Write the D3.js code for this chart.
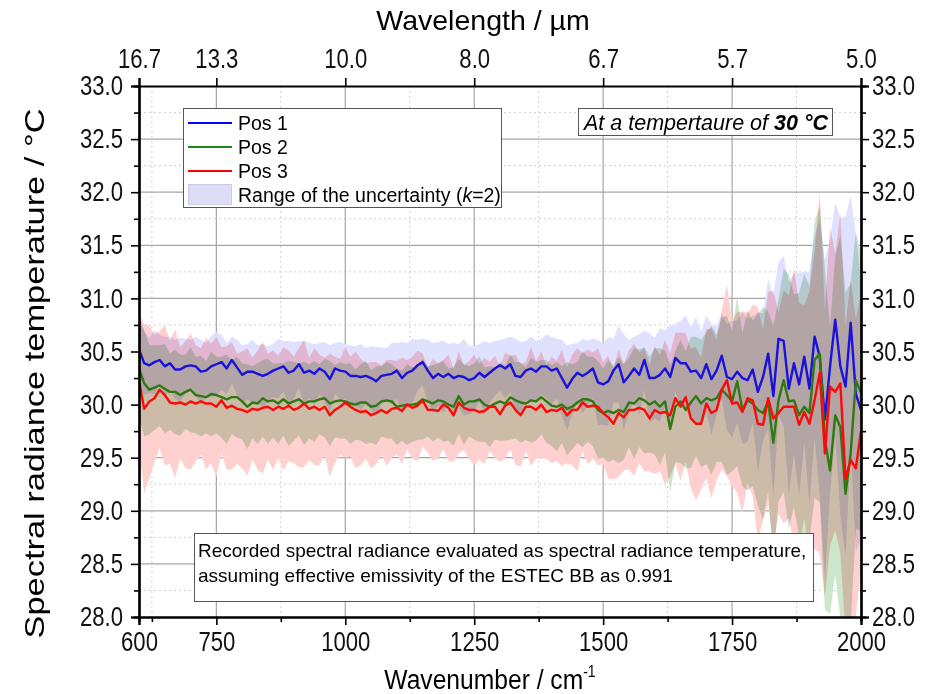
<!DOCTYPE html>
<html>
<head>
<meta charset="utf-8">
<script src="https://cdn.jsdelivr.net/npm/d3@7"></script>
<style>
	body { margin:0; background:#fff; }
	svg { display:block; }
	.band { mix-blend-mode: multiply; }
</style>
</head>
<body>
<svg id="chart" width="932" height="694"></svg>
<script>

// measurement grid, cm-1
var wavenumber = [
	600,610,620,630,640,650,660,670,680,690,700,710,720,730,740,750,760,770,780,790,
	800,810,820,830,840,850,860,870,880,890,900,910,920,930,940,950,960,970,980,990,
	1000,1010,1020,1030,1040,1050,1060,1070,1080,1090,1100,1110,1120,1130,1140,1150,1160,1170,1180,1190,
	1200,1210,1220,1230,1240,1250,1260,1270,1280,1290,1300,1310,1320,1330,1340,1350,1360,1370,1380,1390,
	1400,1410,1420,1430,1440,1450,1460,1470,1480,1490,1500,1510,1520,1530,1540,1550,1560,1570,1580,1590,
	1600,1610,1620,1630,1640,1650,1660,1670,1680,1690,1700,1710,1720,1730,1740,1750,1760,1770,1780,1790,
	1800,1810,1820,1830,1840,1850,1860,1870,1880,1890,1900,1910,1920,1930,1940,1950,1960,1970,1980,1990,
	2000
]

var pos1 = [
	30.52,30.39,30.37,30.40,30.42,30.36,30.39,30.33,30.33,30.36,30.37,30.36,30.31,30.32,30.36,30.38,30.40,30.34,30.42,30.35,
	30.28,30.31,30.31,30.29,30.27,30.29,30.32,30.34,30.36,30.30,30.32,30.38,30.30,30.32,30.29,30.34,30.31,30.24,30.34,30.32,
	30.31,30.27,30.27,30.26,30.27,30.25,30.22,30.27,30.28,30.29,30.32,30.25,30.30,30.32,30.37,30.40,30.32,30.25,30.29,30.26,
	30.29,30.25,30.27,30.26,30.23,30.25,30.30,30.26,30.30,30.34,30.37,30.34,30.38,30.27,30.26,30.32,30.34,30.31,30.36,30.36,
	30.32,30.34,30.25,30.16,30.24,30.30,30.27,30.30,30.34,30.21,30.19,30.22,30.32,30.38,30.21,30.27,30.34,30.28,30.42,30.25,
	30.25,30.28,30.34,30.26,30.44,30.39,30.39,30.31,30.32,30.25,30.38,30.24,30.32,30.46,30.26,30.24,30.31,30.25,30.23,30.33,
	30.12,30.26,30.48,30.08,30.62,30.60,30.15,30.39,30.19,30.45,30.15,30.64,30.45,29.86,30.36,30.80,30.36,30.17,30.77,30.10,
	29.95
]

var pos2 = [
	30.34,30.20,30.14,30.16,30.18,30.15,30.12,30.12,30.09,30.12,30.14,30.09,30.08,30.07,30.10,30.09,30.07,30.05,30.07,30.07,
	30.03,29.98,30.02,30.01,30.06,30.03,30.04,30.01,30.05,30.01,30.03,30.05,30.01,30.03,30.03,30.05,30.06,30.01,30.03,30.04,
	30.03,30.01,30.00,30.02,30.02,29.98,29.99,30.03,30.04,30.03,29.98,29.99,30.00,30.00,30.01,30.05,30.03,30.01,30.04,30.03,
	30.00,29.98,30.08,30.00,30.03,30.03,30.05,30.00,29.98,30.01,30.03,30.01,30.07,30.04,30.02,30.01,30.04,30.03,30.07,30.03,
	29.99,29.98,30.00,29.96,29.98,30.02,30.05,30.05,30.03,29.95,29.92,29.94,29.92,29.95,29.93,30.02,30.01,30.06,30.04,30.00,
	30.03,29.98,30.03,29.77,29.98,30.03,29.95,30.02,30.08,30.01,30.06,30.04,30.06,30.14,30.09,30.03,30.22,29.95,30.04,30.01,
	29.95,29.92,30.03,29.64,30.04,30.23,30.03,30.04,29.90,29.98,29.92,30.42,30.48,29.67,29.38,29.90,29.79,29.16,29.54,30.23,
	30.11
]

var pos3 = [
	30.23,29.96,30.03,30.06,30.14,30.09,30.02,30.01,30.02,30.00,30.03,30.01,30.03,30.01,30.01,29.98,30.04,29.97,29.99,29.96,
	29.95,29.93,29.96,29.95,29.97,29.98,29.95,29.98,29.96,29.99,29.95,29.97,30.01,29.96,29.98,29.95,29.98,29.90,29.95,29.98,
	30.02,29.98,29.95,29.93,29.94,29.90,29.92,29.95,29.92,29.96,29.97,29.94,30.00,29.97,29.99,30.04,29.95,29.95,29.94,30.00,
	29.97,29.90,30.02,29.97,29.95,29.95,29.93,29.94,29.98,29.98,29.91,29.99,30.02,29.95,29.90,29.98,29.98,29.95,30.00,29.93,
	29.95,29.94,29.97,29.90,29.95,29.95,30.02,29.98,29.99,29.98,29.92,29.88,29.82,29.92,29.88,29.95,29.95,29.97,29.95,29.87,
	29.95,29.92,29.93,29.90,30.06,29.98,30.07,29.87,29.82,29.82,30.01,29.92,29.95,30.14,30.23,30.01,30.02,29.93,30.06,30.04,
	29.82,29.81,30.06,29.87,29.92,29.98,29.98,29.98,29.81,29.93,29.82,30.04,30.30,29.54,30.17,30.12,30.20,29.30,29.48,29.40,
	29.75
]

// expanded uncertainty (k=2), half width in °C
var u1 = [
	0.34,0.30,0.26,0.30,0.24,0.28,0.25,0.28,0.30,0.26,0.24,0.28,0.30,0.26,0.29,0.30,0.26,0.24,0.22,0.26,
	0.28,0.26,0.30,0.27,0.30,0.26,0.25,0.28,0.24,0.30,0.27,0.22,0.30,0.26,0.28,0.24,0.28,0.32,0.24,0.27,
	0.26,0.29,0.28,0.31,0.26,0.30,0.32,0.27,0.25,0.29,0.26,0.34,0.28,0.30,0.24,0.22,0.29,0.33,0.30,0.34,
	0.28,0.33,0.30,0.36,0.32,0.30,0.27,0.34,0.28,0.26,0.24,0.28,0.26,0.35,0.33,0.28,0.30,0.29,0.26,0.30,
	0.32,0.28,0.36,0.40,0.33,0.28,0.35,0.30,0.28,0.40,0.38,0.42,0.30,0.36,0.45,0.34,0.30,0.38,0.28,0.42,
	0.38,0.44,0.36,0.48,0.32,0.40,0.45,0.42,0.50,0.44,0.46,0.52,0.42,0.40,0.50,0.55,0.48,0.62,0.58,0.50,
	0.75,0.60,0.70,0.95,0.72,0.80,1.00,0.85,1.05,0.80,1.10,0.95,1.30,1.50,1.20,1.10,1.40,1.60,1.20,1.50,
	1.20
]

var u2 = [
	0.45,0.50,0.42,0.40,0.38,0.42,0.36,0.40,0.38,0.35,0.40,0.36,0.38,0.34,0.40,0.36,0.38,0.42,0.35,0.38,
	0.36,0.40,0.34,0.38,0.36,0.40,0.35,0.38,0.34,0.40,0.37,0.34,0.39,0.35,0.38,0.33,0.37,0.40,0.34,0.36,
	0.35,0.38,0.33,0.36,0.39,0.34,0.37,0.33,0.36,0.35,0.36,0.33,0.38,0.35,0.34,0.38,0.33,0.36,0.35,0.38,
	0.34,0.37,0.35,0.38,0.33,0.36,0.40,0.35,0.38,0.34,0.37,0.35,0.40,0.36,0.38,0.34,0.40,0.37,0.35,0.39,
	0.38,0.42,0.36,0.44,0.40,0.38,0.45,0.40,0.42,0.46,0.42,0.48,0.44,0.50,0.45,0.42,0.52,0.46,0.50,0.45,
	0.50,0.55,0.48,0.60,0.52,0.58,0.55,0.62,0.56,0.60,0.62,0.70,0.60,0.68,0.75,0.66,0.80,0.72,0.85,0.78,
	0.90,1.00,0.85,1.10,0.95,1.05,1.20,1.00,1.15,1.25,1.20,1.30,1.40,1.60,1.35,1.50,1.80,1.90,1.60,1.40,
	1.30
]

var u3 = [
	0.62,0.80,0.72,0.60,0.55,0.66,0.58,0.70,0.52,0.60,0.64,0.55,0.50,0.62,0.56,0.66,0.50,0.58,0.60,0.52,
	0.55,0.60,0.48,0.56,0.62,0.50,0.56,0.48,0.58,0.52,0.50,0.56,0.60,0.48,0.55,0.52,0.46,0.58,0.50,0.45,
	0.52,0.47,0.55,0.50,0.45,0.50,0.48,0.42,0.50,0.46,0.44,0.50,0.42,0.48,0.52,0.44,0.40,0.48,0.45,0.42,
	0.50,0.44,0.48,0.40,0.46,0.52,0.45,0.50,0.42,0.48,0.45,0.50,0.44,0.52,0.48,0.42,0.56,0.46,0.50,0.44,
	0.50,0.47,0.55,0.45,0.52,0.58,0.46,0.54,0.50,0.55,0.48,0.58,0.52,0.60,0.50,0.56,0.62,0.52,0.58,0.50,
	0.60,0.55,0.68,0.58,0.62,0.70,0.60,0.66,0.72,0.62,0.70,0.80,0.66,0.75,0.90,0.78,0.85,0.95,0.80,0.90,
	1.10,0.90,1.00,1.20,0.95,1.10,1.05,1.30,1.15,1.00,1.25,1.40,1.70,1.35,1.50,1.30,1.60,1.45,1.70,1.40,
	1.30
]

var xTicks = [600, 750, 1000, 1250, 1500, 1750, 2000]
var xMinor = [625, 875, 1125, 1375, 1625, 1875]
var topLabels = ['16.7', '13.3', '10.0', '8.0', '6.7', '5.7', '5.0']
var yTicks = [28.0, 28.5, 29.0, 29.5, 30.0, 30.5, 31.0, 31.5, 32.0, 32.5, 33.0]
var yMinor = [28.25, 28.75, 29.25, 29.75, 30.25, 30.75, 31.25, 31.75, 32.25, 32.75]

var seriesNames = ['Pos 1', 'Pos 2', 'Pos 3']
var lineColors = ['#1a12dc', '#2f7a10', '#ff0808']
var legendColors = ['#0000ff', '#1a8a1a', '#ff0000']
var bandColors = ['#e0e0ff', '#cce6cc', '#ffd0d0']

var frame = {left: 139, right: 861, top: 86, bottom: 617}
var font = '"Liberation Sans", Arial, sans-serif'
var squeeze = 0.82   // narrow face for tick labels

var x = d3.scaleLinear().domain([600, 2000]).range([frame.left, frame.right])
var y = d3.scaleLinear().domain([28, 33]).range([frame.bottom, frame.top])

var svg = d3.select('#chart')
	.style('font-family', font)

svg.append('defs')
	.append('clipPath')
	.attr('id', 'plotClip')
	.append('rect')
	.attr('x', frame.left)
	.attr('y', frame.top)
	.attr('width', frame.right - frame.left)
	.attr('height', frame.bottom - frame.top)

// grid
var grid = svg.append('g')

grid.selectAll('.minorX')
	.data(xMinor)
	.enter()
	.append('line')
	.attr('x1', d => x(d)).attr('x2', d => x(d))
	.attr('y1', frame.top).attr('y2', frame.bottom)
	.attr('stroke', '#cfcfcf')
	.attr('stroke-dasharray', '2,3')

grid.selectAll('.minorY')
	.data(yMinor)
	.enter()
	.append('line')
	.attr('x1', frame.left).attr('x2', frame.right)
	.attr('y1', d => y(d)).attr('y2', d => y(d))
	.attr('stroke', '#cfcfcf')
	.attr('stroke-dasharray', '2,3')

grid.selectAll('.majorX')
	.data(xTicks.slice(1, -1))
	.enter()
	.append('line')
	.attr('x1', d => x(d)).attr('x2', d => x(d))
	.attr('y1', frame.top).attr('y2', frame.bottom)
	.attr('stroke', '#a6a6a6')
	.attr('stroke-width', 1.2)

grid.selectAll('.majorY')
	.data(yTicks.slice(1, -1))
	.enter()
	.append('line')
	.attr('x1', frame.left).attr('x2', frame.right)
	.attr('y1', d => y(d)).attr('y2', d => y(d))
	.attr('stroke', '#a6a6a6')
	.attr('stroke-width', 1.2)

// data: uncertainty bands multiplied together, lines on top
var series = [pos1, pos2, pos3]
var uncert = [u1, u2, u3]

var plot = svg.append('g').attr('clip-path', 'url(#plotClip)')

plot.selectAll('.band')
	.data(series.map((s, k) => s.map((v, i) => [wavenumber[i], v - uncert[k][i], v + uncert[k][i]])))
	.enter()
	.append('path')
	.attr('class', 'band')
	.attr('d', d3.area().x(d => x(d[0])).y0(d => y(d[1])).y1(d => y(d[2])))
	.attr('fill', (d, i) => bandColors[i])

var line = d3.line()
	.x((d, i) => x(wavenumber[i]))
	.y(d => y(d))

plot.selectAll('.series')
	.data(series)
	.enter()
	.append('path')
	.attr('class', 'series')
	.attr('d', d => line(d))
	.attr('fill', 'none')
	.attr('stroke', (d, i) => lineColors[i])
	.attr('stroke-width', 2.4)
	.attr('stroke-linejoin', 'round')

// axes
var axes = svg.append('g')

var bottomAxis = axes.append('g')
	.attr('transform', `translate(0,${frame.bottom})`)
	.call(d3.axisBottom(x).tickValues(xTicks).tickSize(8).tickPadding(4).tickFormat(d3.format('d')))
bottomAxis.append('g')
	.call(d3.axisBottom(x).tickValues(xMinor).tickSize(5).tickFormat(''))

var topAxis = axes.append('g')
	.attr('transform', `translate(0,${frame.top})`)
	.call(d3.axisTop(x).tickValues(xTicks).tickSize(8).tickPadding(7).tickFormat((d, i) => topLabels[i]))

var leftAxis = axes.append('g')
	.attr('transform', `translate(${frame.left},0)`)
	.call(d3.axisLeft(y).tickValues(yTicks).tickSize(8).tickPadding(8).tickFormat(d3.format('.1f')))
leftAxis.append('g')
	.call(d3.axisLeft(y).tickValues(yMinor).tickSize(5).tickFormat(''))

var rightAxis = axes.append('g')
	.attr('transform', `translate(${frame.right},0)`)
	.call(d3.axisRight(y).tickValues(yTicks).tickSize(8).tickFormat(d3.format('.1f')))
rightAxis.append('g')
	.call(d3.axisRight(y).tickValues(yMinor).tickSize(5).tickFormat(''))

axes.selectAll('.domain')
	.attr('stroke', '#000')
	.attr('stroke-width', 2.2)
axes.selectAll('.tick line')
	.attr('stroke', '#000')
	.attr('stroke-width', 1.6)
axes.selectAll('.tick text')
	.attr('fill', '#111')
	.style('font-family', font)
	.style('font-size', '27px')

// condensed look: squeeze horizontally around the anchor point
axes.selectAll('.tick text').each(function(){
	var t = d3.select(this)
	var x0 = +t.attr('x') || 0
	t.attr('x', x0 / squeeze).attr('transform', `scale(${squeeze},1)`)
})

bottomAxis.selectAll('.tick text').attr('dy', '0.82em')
topAxis.selectAll('.tick text').attr('dy', '-0.12em')

// axis titles
svg.append('text')
	.attr('x', 483)
	.attr('y', 30)
	.attr('text-anchor', 'middle')
	.style('font-size', '28.5px')
	.text('Wavelength / µm')

var xTitle = svg.append('text')
	.attr('transform', 'translate(490,689) scale(0.88,1)')
	.attr('text-anchor', 'middle')
	.style('font-size', '28px')
xTitle.append('tspan').text('Wavenumber / cm')
xTitle.append('tspan')
	.attr('dy', -12)
	.style('font-size', '16px')
	.text('-1')

svg.append('text')
	.attr('transform', `translate(44,${(frame.top + frame.bottom) / 2 + 22}) rotate(-90)`)
	.attr('text-anchor', 'middle')
	.attr('textLength', 530)
	.attr('lengthAdjust', 'spacingAndGlyphs')
	.style('font-size', '28px')
	.text('Spectral radiance temperature / °C')

// legend
var legend = svg.append('g')
	.style('font-size', '19.5px')

legend.append('rect')
	.attr('x', 183.5).attr('y', 108.5)
	.attr('width', 318).attr('height', 99)
	.attr('fill', '#fff')
	.attr('stroke', '#555')

var entry = legend.selectAll('.entry')
	.data(seriesNames)
	.enter()
	.append('g')
	.attr('transform', (d, i) => `translate(0,${123 + i * 24})`)

entry.append('line')
	.attr('x1', 188).attr('x2', 232)
	.attr('stroke', (d, i) => legendColors[i])
	.attr('stroke-width', 2.2)

entry.append('text')
	.attr('x', 238)
	.attr('dy', '0.36em')
	.text(d => d)

legend.append('rect')
	.attr('x', 188.5).attr('y', 184.5)
	.attr('width', 43).attr('height', 20)
	.attr('fill', '#dcdcf7')
	.attr('stroke', '#cacaea')

var rangeText = legend.append('text')
	.attr('x', 238)
	.attr('y', 195)
	.attr('dy', '0.36em')
rangeText.append('tspan').text('Range of the uncertainty (')
rangeText.append('tspan').style('font-style', 'italic').text('k')
rangeText.append('tspan').text('=2)')

// temperature note
svg.append('rect')
	.attr('x', 578.5).attr('y', 108.5)
	.attr('width', 254).attr('height', 27)
	.attr('fill', '#fff')
	.attr('stroke', '#555')

var note = svg.append('text')
	.attr('x', 706)
	.attr('y', 129.5)
	.attr('text-anchor', 'middle')
	.style('font-size', '21.5px')
	.style('font-style', 'italic')
note.append('tspan').text('At a tempertaure of ')
note.append('tspan').style('font-weight', 'bold').text('30 °C')

// method note
svg.append('rect')
	.attr('x', 194.5).attr('y', 533.5)
	.attr('width', 619).attr('height', 68)
	.attr('fill', '#fff')
	.attr('stroke', '#555')

svg.append('g')
	.style('font-size', '19px')
	.selectAll('text')
	.data([
		'Recorded spectral radiance evaluated as spectral radiance temperature,',
		'assuming effective emissivity of the ESTEC BB as 0.991'
	])
	.enter()
	.append('text')
	.attr('x', 198)
	.attr('y', (d, i) => 557 + i * 25)
	.text(d => d)

</script>
</body>
</html>
